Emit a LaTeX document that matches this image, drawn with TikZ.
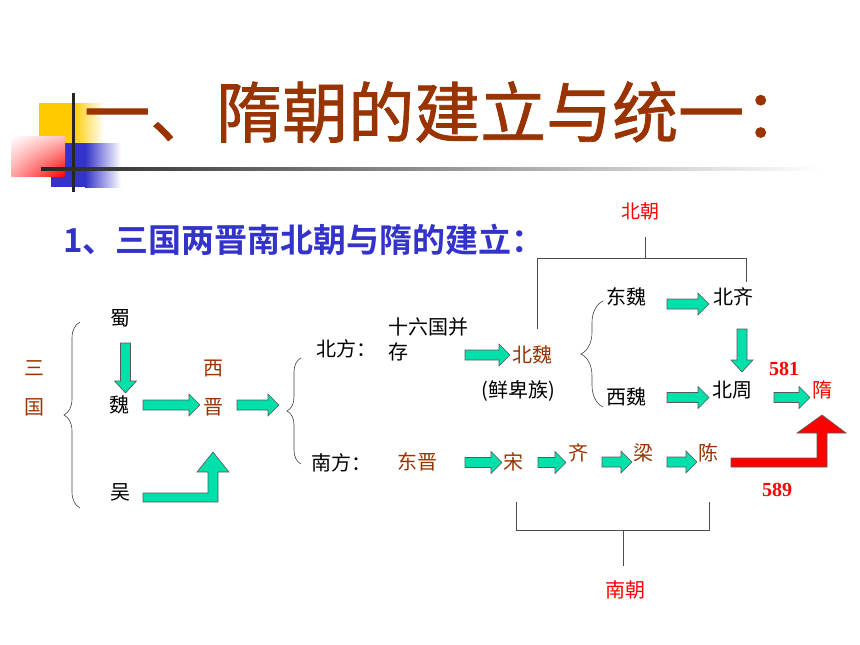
\documentclass[tikz,border=0pt]{standalone}
\usepackage{fontspec}
\setmainfont{Liberation Serif}
\newfontfamily\hei[BoldFont={Noto Sans CJK SC Bold}]{Noto Sans CJK SC}
\newfontfamily\titlehei[FakeBold=1.2]{Noto Sans CJK SC}
\usetikzlibrary{decorations.pathreplacing,shadings}
\definecolor{titlebrown}{RGB}{153,51,0}
\definecolor{subblue}{RGB}{51,51,204}
\definecolor{arrgreen}{RGB}{0,224,170}
\definecolor{decoyellow}{RGB}{255,204,0}
\def\rarrow[#1](#2:#3:#4){\draw[#1] (#2,#4-5) -- (#3-11,#4-5) -- (#3-11,#4-11) -- (#3,#4) -- (#3-11,#4+11) -- (#3-11,#4+5) -- (#2,#4+5) -- cycle;}
\def\darrow[#1](#2:#3:#4){\draw[#1] (#2-5,#3) -- (#2-5,#4-12) -- (#2-11,#4-12) -- (#2,#4) -- (#2+11,#4-12) -- (#2+5,#4-12) -- (#2+5,#3) -- cycle;}

\begin{document}
\begin{tikzpicture}[x=1pt, y=-1pt,
	txt/.style={inner sep=0pt, font=\hei\fontsize{20}{24}\selectfont},
	num/.style={inner sep=0pt, text=red, font=\bfseries\fontsize{20}{24}\selectfont},
	blk/.style={fill=arrgreen, draw=black!65, line width=0.6pt},
	brk/.style={draw=black!70, line width=1pt},
	brc/.style={draw=black!75, line width=0.6pt, decorate}]
		%%%%% START %%%%%
		\useasboundingbox (0, 0) rectangle (860, 645);
		
		% corner decoration
		\fill[decoyellow] (39, 103) rectangle (73, 143);
		\shade[left color=decoyellow, right color=white] (73, 103) rectangle (104, 143);
		\fill[subblue] (51, 143) rectangle (85, 187);
		\shade[left color=subblue, right color=white] (85, 143) rectangle (121, 187);
		\shade[upper left=white, upper right=red!25, lower left=red!35, lower right=red] (11, 136) rectangle (65, 176);
		\fill[black!85] (71.5, 93) rectangle (74.5, 192);
		\shade[left color=black!85, middle color=black!45, right color=white] (41, 167.5) rectangle (822, 170.5);
		
		\node (title) [anchor=west, inner sep=0pt, text=titlebrown, font=\titlehei\fontsize{66}{72}\selectfont] at (84, 112) {一、隋朝的建立与统一：};
		\node (sub) [anchor=west, inner sep=0pt, text=subblue, font=\hei\bfseries\fontsize{33}{38}\selectfont] at (63, 240) {1、三国两晋南北朝与隋的建立：};
		
		% three kingdoms
		\node (san) [txt, text=titlebrown] at (34, 368) {三};
		\node (guo) [txt, text=titlebrown] at (34, 407) {国};
		\draw[brc, decoration={brace, amplitude=16pt}] (80, 508) -- (80, 322);
		\node (shu) [txt] at (120, 318) {蜀};
		\node (wei) [txt] at (119, 405) {魏};
		\node (wu) [txt] at (120, 492) {吴};
		\node (xi) [txt, text=titlebrown] at (213, 369) {西};
		\node (jin) [txt, text=titlebrown] at (213, 407) {晋};
		\darrow[blk](125.5:343:393);
		\rarrow[blk](143:200:405);
		\rarrow[blk](237:279:405);
		\draw[blk] (143, 493) -- (208, 493) -- (208, 472) -- (197, 472) -- (213, 452) -- (229, 472) -- (218, 472) -- (218, 502) -- (143, 502) -- cycle;
		
		% north and south
		\draw[brc, decoration={brace, amplitude=14pt}] (301, 464) -- (301, 358);
		\node (beifang) [txt, anchor=west] at (316, 349) {北方：};
		\node (sixteen) [txt, anchor=west, align=left, font=\hei\fontsize{20}{25}\selectfont] at (388, 339.5) {十六国并\\存};
		\node (beiwei) [txt, text=titlebrown] at (532, 355) {北魏};
		\node (xianbei) [txt] at (518, 391) {(鲜卑族)};
		\rarrow[blk](465:510:355);
		
		\node (nanfang) [txt, anchor=west] at (311, 463) {南方：};
		\node (dongjin) [txt, text=titlebrown] at (417, 462) {东晋};
		\node (song) [txt, text=titlebrown] at (513, 462) {宋};
		\node (qi) [txt, text=titlebrown] at (578, 453) {齐};
		\node (liang) [txt, text=titlebrown] at (643, 453) {梁};
		\node (chen) [txt, text=titlebrown] at (708, 453) {陈};
		\rarrow[blk](465:502:462.5);
		\rarrow[blk](538:566:462.5);
		\rarrow[blk](602:632:462);
		\rarrow[blk](667:697:462);
		
		% northern dynasties
		\draw[brc, decoration={brace, amplitude=22pt}] (603, 407) -- (603, 301);
		\node (dongwei) [txt] at (626, 297) {东魏};
		\node (beiqi) [txt] at (733, 297) {北齐};
		\node (xiwei) [txt] at (626, 397) {西魏};
		\node (beizhou) [txt] at (732, 390) {北周};
		\rarrow[blk](667:709:304);
		\rarrow[blk](667:709:397.5);
		\darrow[blk](742:329:372);
		\rarrow[blk](774:810:397.5);
		
		% sui
		\node (sui) [txt, text=red] at (822, 390) {隋};
		\node (n581) [num] at (784, 369) {581};
		\node (n589) [num] at (777, 490) {589};
		\draw[fill=red, draw=black!65, line width=0.6pt] (731, 458) -- (817, 458) -- (817, 433) -- (797, 433) -- (822, 415) -- (846, 433) -- (827, 433) -- (827, 467) -- (731, 467) -- cycle;
		
		% dynasty brackets
		\node (beichao) [txt, text=red, font=\hei\fontsize{19}{22}\selectfont] at (640, 211) {北朝};
		\draw[brk] (645, 237) -- (645, 258);
		\draw[brk] (537, 329) -- (537, 258) -- (746, 258) -- (746, 282);
		\node (nanchao) [txt, text=red] at (625, 590) {南朝};
		\draw[brk] (516, 502) -- (516, 530) -- (709, 530) -- (709, 502);
		\draw[brk] (623, 530) -- (623, 566);
		
		%%%%% END %%%%%
	\end{tikzpicture}
\end{document}
